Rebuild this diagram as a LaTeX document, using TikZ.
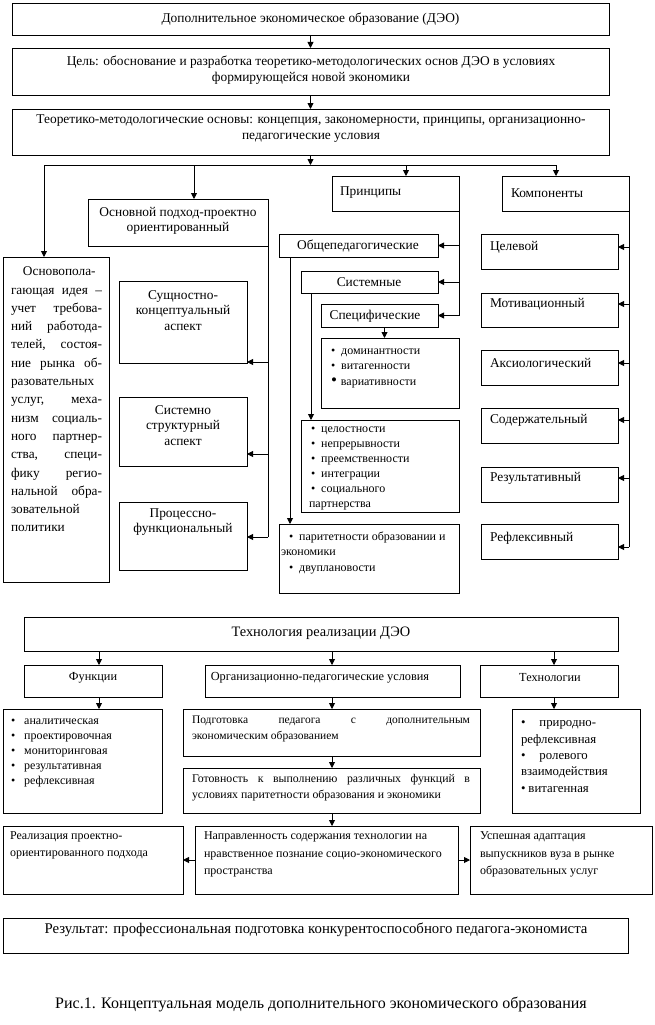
\documentclass[tikz,border=0pt]{standalone}
\usepackage{fontspec}
\setmainfont{Liberation Serif}
\usetikzlibrary{arrows.meta,calc}
\tikzset{
  bx/.style={draw, line width=0.9pt, inner sep=0pt, outer sep=0pt, anchor=north west},
  ln/.style={line width=0.9pt},
  arr/.style={line width=0.9pt, -{Triangle[width=6pt,length=6pt]}},
  tx/.style={inner sep=0pt, outer sep=0pt, align=center, font=\fontsize{13.4}{15.5}\selectfont},
  txl/.style={inner sep=0pt, outer sep=0pt, align=left, anchor=west, font=\fontsize{13.4}{15.5}\selectfont},
  sm/.style={inner sep=0pt, outer sep=0pt, align=left, anchor=west, font=\fontsize{12}{15}\selectfont},
}
\newcommand\mkbox[5]{\node[bx, minimum width={#4-#2}, minimum height={#5-#3}] (#1) at (#2,#3) {};}
\newcommand\jl[2]{\hbox to #1pt{#2}}
\begin{document}
\begin{tikzpicture}[x=1pt,y=-1pt]
\useasboundingbox (0,0) rectangle (654,1025);
% ---------- boxes
\mkbox{b1}{12}{3}{609}{35}
\mkbox{b2}{12}{48}{609}{95}
\mkbox{b3}{12}{109}{609}{155}
\mkbox{idea}{3}{257}{109}{582}
\mkbox{appr}{88}{199}{268}{246}
\mkbox{asp1}{119}{281}{247}{363}
\mkbox{asp2}{119}{397}{247}{466}
\mkbox{asp3}{119}{502}{247}{570}
\mkbox{prin}{332}{176}{459}{211}
\mkbox{comp}{502}{176}{629}{211}
\mkbox{gen}{279}{234}{438}{257}
\mkbox{sys}{301}{271}{438}{293}
\mkbox{spec}{321}{304}{438}{327}
\mkbox{la}{321}{338}{459}{408}
\mkbox{lb}{301}{420}{459}{512}
\mkbox{lc}{279}{524}{459}{593}
\mkbox{c1}{481}{234}{618}{269}
\mkbox{c2}{481}{293}{618}{327}
\mkbox{c3}{481}{350}{618}{385}
\mkbox{c4}{481}{408}{618}{443}
\mkbox{c5}{481}{467}{618}{502}
\mkbox{c6}{481}{524}{618}{559}
\mkbox{tech}{24}{617}{618}{651}
\mkbox{fun}{24}{665}{162}{697}
\mkbox{org}{205}{665}{460}{697}
\mkbox{tn}{480}{665}{618}{697}
\mkbox{fl}{3}{709}{162}{813}
\mkbox{pod}{183}{709}{480}{756}
\mkbox{got}{183}{768}{480}{813}
\mkbox{tl}{512}{709}{640}{813}
\mkbox{real}{3}{826}{183}{894}
\mkbox{napr}{195}{826}{458}{894}
\mkbox{usp}{470}{826}{652}{894}
\mkbox{res}{3}{918}{628}{953}
% ---------- texts
\node[tx] (t1) at (b1.center) {Дополнительное экономическое образование (ДЭО)};
\node[tx] (t2) at (311,70) {Цель: обоснование и разработка теоретико-методологических основ ДЭО в условиях\\формирующейся новой экономики};
\node[tx] (t3) at (311,128.5) {Теоретико-методологические основы: концепция, закономерности, принципы, организационно-\\педагогические условия};
\node[tx] (tappr) at (178,221) {Основной подход-проектно\\ориентированный};
\node[txl, font=\fontsize{13.3}{18.3}\selectfont] (tidea) at (11,399.5) {\jl{91}{\hspace*{12pt}Основопола-\hfill}\\
\jl{91}{гающая\hfill идея\hfill –}\\
\jl{91}{учет\hfill требова-}\\
\jl{91}{ний\hfill работода-}\\
\jl{91}{телей,\hfill состоя-}\\
\jl{91}{ние\hfill рынка\hfill об-}\\
\jl{91}{разовательных\hfill}\\
\jl{91}{услуг,\hfill меха-}\\
\jl{91}{низм\hfill социаль-}\\
\jl{91}{ного\hfill партнер-}\\
\jl{91}{ства,\hfill специ-}\\
\jl{91}{фику\hfill регио-}\\
\jl{91}{нальной\hfill обра-}\\
\jl{91}{зовательной\hfill}\\
\jl{91}{политики\hfill}};
\node[tx] (ta1) at (183,310.5) {Сущностно-\\концептуальный\\аспект};
\node[tx] (ta2) at (183,425.5) {Системно\\структурный\\аспект};
\node[tx] (ta3) at (183,522) {Процессно-\\функциональный};
\node[txl] (tprin) at (340,193) {Принципы};
\node[txl] (tcomp) at (511,193) {Компоненты};
\node[tx] (tgen) at (358,246) {Общепедагогические};
\node[tx] (tsys) at (369,282) {Системные};
\node[tx] (tspec) at (375,316) {Специфические};
\node[sm] (tla) at (331,368) {•\hspace{6pt}доминантности\\
•\hspace{6pt}витагенности\\[1pt]
{\fontsize{17}{10}\selectfont•}\hspace{4pt}вариативности};
\node[sm] (tlb) at (309,468.5) {\hspace*{2pt}•\hspace{6pt}целостности\\
\hspace*{2pt}•\hspace{6pt}непрерывности\\
\hspace*{2pt}•\hspace{6pt}преемственности\\
\hspace*{2pt}•\hspace{6pt}интеграции\\
\hspace*{2pt}•\hspace{6pt}социального\\
партнерства};
\node[sm] (tlc) at (281,552.5) {\hspace*{8pt}•\hspace{6pt}паритетности образовании и\\
экономики\\[1pt]
\hspace*{8pt}•\hspace{6pt}двуплановости};
\node[txl] (tc1) at (490,247) {Целевой};
\node[txl] (tc2) at (490,304) {Мотивационный};
\node[txl] (tc3) at (490,363) {Аксиологический};
\node[txl] (tc4) at (490,420) {Содержательный};
\node[txl] (tc5) at (490,478) {Результативный};
\node[txl] (tc6) at (490,538) {Рефлексивный};
\node[tx, font=\fontsize{14.4}{15}\selectfont] (ttech) at (321,633) {Технология реализации ДЭО};
\node[tx, font=\fontsize{12.3}{15}\selectfont] (tfun) at (93,678) {Функции};
\node[tx, font=\fontsize{12.3}{15}\selectfont] (torg) at (320,678) {Организационно-педагогические условия};
\node[tx, font=\fontsize{12.3}{15}\selectfont] (ttn) at (550,678) {Технологии};
\node[sm] (tfl) at (11,752.5) {•\hspace{9pt}аналитическая\\
•\hspace{9pt}проектировочная\\
•\hspace{9pt}мониторинговая\\
•\hspace{9pt}результативная\\
•\hspace{9pt}рефлексивная};
\node[sm, font=\fontsize{11.5}{16}\selectfont] (tpod) at (192,729) {\jl{278}{Подготовка\hfill педагога\hfill с\hfill дополнительным}\\
экономическим образованием};
\node[sm, font=\fontsize{11.8}{16}\selectfont] (tgot) at (192,787.5) {\jl{278}{Готовность\hfill к\hfill выполнению\hfill различных\hfill функций\hfill в}\\
условиях паритетности образования и экономики};
\node[sm, font=\fontsize{12.8}{16.3}\selectfont] (ttl) at (521,756.5) {•\hspace{14pt}природно-\\
рефлексивная\\
•\hspace{14pt}ролевого\\
взаимодействия\\
•\hspace{3pt}витагенная};
\node[sm, font=\fontsize{12}{17.5}\selectfont] (treal) at (10,845.5) {Реализация проектно-\\ориентированного подхода};
\node[sm, font=\fontsize{12}{17.5}\selectfont] (tnapr) at (204,854.5) {Направленность содержания технологии на\\нравственное познание социо-экономического\\пространства};
\node[sm, font=\fontsize{12}{17.5}\selectfont] (tusp) at (480,854.5) {Успешная адаптация\\выпускников вуза в рынке\\образовательных услуг};
\node[tx, font=\fontsize{14.8}{16}\selectfont] (tres) at (316,930) {Результат: профессиональная подготовка конкурентоспособного педагога-экономиста};
\node[tx, font=\fontsize{16}{18}\selectfont] (tcap) at (321,1004) {Рис.1. Концептуальная модель дополнительного экономического образования};
% ---------- connectors
\draw[arr] (b1.south) -- (b2.north);
\draw[arr] (b2.south) -- (b3.north);
\coordinate (h1) at (44,165);
\coordinate (h2) at (194,165);
\coordinate (h3) at (406,165);
\coordinate (h4) at (556,165);
\draw[arr] (b3.south) -- (b3.south |- h1);
\draw[ln] (h1) -- (h4);
\draw[arr] (h1) -- (h1 |- idea.north);
\draw[arr] (h2) -- (h2 |- appr.north);
\draw[arr] (h3) -- (h3 |- prin.north);
\draw[arr] (h4) -- (h4 |- comp.north);
% approach to aspects
\coordinate (e1) at ([yshift=1pt]asp1.south east);
\coordinate (e2) at ([yshift=12pt]asp2.south east);
\coordinate (e3) at ([yshift=33pt]asp3.south east);
\draw[ln] (appr.south east) -- (appr.south east |- e3);
\draw[arr] (appr.south east |- e1) -- (e1);
\draw[arr] (appr.south east |- e2) -- (e2);
\draw[arr] (appr.south east |- e3) -- (e3);
% principles
\draw[ln] (prin.south east) -- (prin.south east |- spec.east);
\draw[arr] (prin.south east |- gen.east) -- (gen.east);
\draw[arr] (prin.south east |- sys.east) -- (sys.east);
\draw[arr] (prin.south east |- spec.east) -- (spec.east);
\coordinate (s1) at ([xshift=5pt]spec.south);
\draw[arr] (s1) -- (s1 |- la.north);
\coordinate (s2) at ([xshift=10pt]sys.south west);
\draw[arr] (s2) -- (s2 |- lb.north);
\coordinate (s3) at ([xshift=11pt]gen.south west);
\draw[arr] (s3) -- (s3 |- lc.north);
% components
\coordinate (k1) at ([yshift=-13pt]c1.north east);
\coordinate (k2) at ([yshift=-11pt]c2.north east);
\coordinate (k3) at ([yshift=-13pt]c3.north east);
\coordinate (k4) at ([yshift=-12pt]c4.north east);
\coordinate (k5) at ([yshift=-11pt]c5.north east);
\coordinate (k6) at ([yshift=-23pt]c6.north east);
\draw[ln] (comp.south east) -- (comp.south east |- k6);
\foreach \k in {k1,k2,k3,k4,k5,k6} {\draw[arr] (comp.south east |- \k) -- (\k);}
% technology
\coordinate (g1) at (99,651);
\coordinate (g2) at (332,651);
\coordinate (g3) at (554,651);
\draw[arr] (g1) -- (g1 |- fun.north);
\draw[arr] (g2) -- (g2 |- org.north);
\draw[arr] (g3) -- (g3 |- tn.north);
\draw[arr] (g1 |- fun.south) -- (g1 |- fl.north);
\draw[arr] (g2 |- org.south) -- (g2 |- pod.north);
\draw[arr] (g3 |- tn.south) -- (g3 |- tl.north);
\draw[arr] (g2 |- pod.south) -- (g2 |- got.north);
\draw[arr] (g2 |- got.south) -- (g2 |- napr.north);
\draw[arr] (napr.west) -- (real.east);
\draw[arr] (napr.east) -- (usp.west);
\end{tikzpicture}
\end{document}
